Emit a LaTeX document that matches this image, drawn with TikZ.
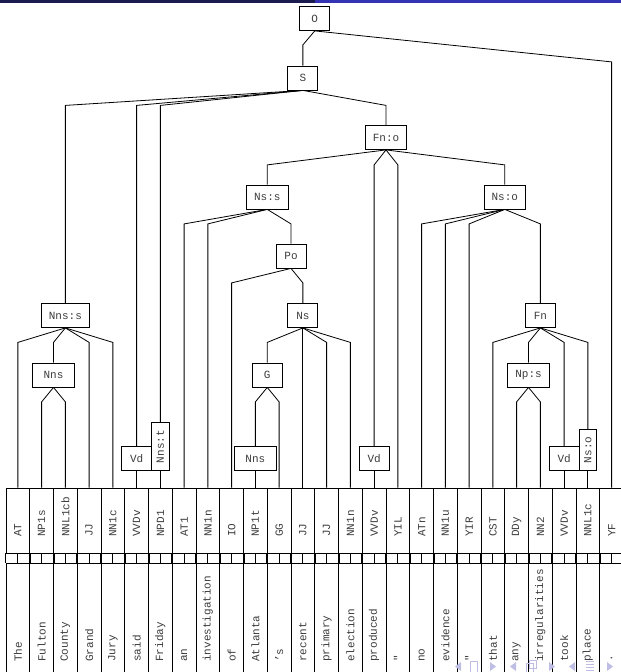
\documentclass[tikz,border=0pt]{standalone}
\usepackage{fontspec}
\setmonofont{Liberation Mono}
\usepackage{graphicx}
\definecolor{barnavy}{RGB}{27,27,80}
\definecolor{barblue}{RGB}{51,51,179}
\definecolor{navgrey}{RGB}{190,190,228}
\definecolor{inkgrey}{RGB}{60,60,60}
\newcommand{\colz}{17.875}
\newcommand{\colw}{23.75}
\tikzset{
	phrase/.style={draw, text=inkgrey, font=\ttfamily\fontsize{11}{13}\selectfont, minimum height=24, minimum width=30, inner xsep=7.5, inner ysep=0},
	phraseup/.style={draw, text=inkgrey, font=\ttfamily\fontsize{11}{13}\selectfont, inner xsep=5, inner ysep=7.5, anchor=south},
	cell/.style={draw, minimum width=\colw, inner sep=0},
	tagcell/.style={cell, minimum height=65},
	wordcell/.style={cell, minimum height=140},
	celltext/.style={text=inkgrey, font=\ttfamily\fontsize{11}{13}\selectfont, inner sep=0, anchor=south},
	wire/.style={line width=0.8pt},
}

\begin{document}
\begin{tikzpicture}[x=1pt, y=-1pt, line width=0.8pt]
	\useasboundingbox (0,0) rectangle (621,672);
	% Phrase nodes:
	\node[phrase] (O) at ({\colz+\colw*12.5},18.5) {O};
	\node[phrase] (S) at ({\colz+\colw*12},78) {S};
	\node[phrase] (fno) at ({\colz+\colw*15.5},137.5) {Fn:o};
	\node[phrase] (nss) at ({\colz+\colw*10.5},197) {Ns:s};
	\node[phrase] (nso) at ({\colz+\colw*20.5},197) {Ns:o};
	\node[phrase] (po) at ({\colz+\colw*11.5},256) {Po};
	\node[phrase] (nnss) at ({\colz+\colw*2},315.5) {Nns:s};
	\node[phrase] (ns) at ({\colz+\colw*12},315.5) {Ns};
	\node[phrase] (fn) at ({\colz+\colw*22},315.5) {Fn};
	\node[phrase, minimum width=42] (nnsa) at ({\colz+\colw*1.5},375) {Nns};
	\node[phrase] (g) at ({\colz+\colw*10.5},375) {G};
	\node[phrase] (nps) at ({\colz+\colw*21.5},375) {Np:s};
	\node[phrase, anchor=south] (vda) at ({\colz+\colw*5},471) {Vd};
	\node[phraseup] (nnst) at ({\colz+\colw*6},471) {\rotatebox{90}{Nns:t}};
	\node[phrase, anchor=south, minimum width=42] (nnsb) at ({\colz+\colw*10},471) {Nns};
	\node[phrase, anchor=south] (vdb) at ({\colz+\colw*15},471) {Vd};
	\node[phrase, anchor=south] (vdc) at ({\colz+\colw*23},471) {Vd};
	\node[phraseup] (nsob) at ({\colz+\colw*24},471) {\rotatebox{90}{Ns:o}};
	% Tags and words:
	\foreach \tagname/\wrd [count=\i from 0] in {AT/The, NP1s/Fulton, NNL1cb/County, JJ/Grand, NN1c/Jury, VVDv/said, NPD1/Friday, AT1/an, NN1n/investigation, IO/of, NP1t/Atlanta, GG/’s, JJ/recent, JJ/primary, NN1n/election, VVDv/produced, YIL/", ATn/no, NN1u/evidence, YIR/", CST/that, DDy/any, NN2/irregularities, VVDv/took, NNL1c/place, YF/.} {
		\node[tagcell] (t\i) at ({\colz+\colw*\i},520.5) {};
		\node[celltext] (tl\i) at ({\colz+\colw*\i},537) {\rotatebox{90}{\tagname}};
		\node[wordcell] (w\i) at ({\colz+\colw*\i},633) {};
		\node[celltext] (wl\i) at ({\colz+\colw*\i},662) {\rotatebox{90}{\wrd}};
		\draw[wire] (t\i) -- (w\i);
		\draw[wire] (t\i.south west) -- (w\i.north west);
		\draw[wire] (t\i.south east) -- (w\i.north east);
	}
	% Connectors:
	\foreach \a/\b/\h in {O/S/14, O/t25/31, S/nnss/15, S/vda/15, S/nnst/15, S/fno/15,
		nnss/t0/14.5, nnss/nnsa/14.5, nnss/t3/14.5, nnss/t4/14.5, nnsa/t1/14.5, nnsa/t2/14.5,
		vda/t5/8, nnst/t6/8, fno/nss/15, fno/vdb/15, fno/t16/15, fno/nso/15,
		nss/t7/14.5, nss/t8/14.5, nss/po/14.5, po/t9/14.5, po/ns/14.5,
		ns/g/14.5, ns/t12/14.5, ns/t13/14.5, ns/t14/14.5, g/nnsb/14.5, g/t11/14.5,
		nnsb/t10/8, vdb/t15/8, nso/t17/14.5, nso/t18/14.5, nso/t19/14.5, nso/fn/14.5,
		fn/t20/14.5, fn/nps/14.5, fn/vdc/14.5, fn/nsob/14.5, nps/t21/14.5, nps/t22/14.5,
		vdc/t23/8, nsob/t24/8} {
		\path (\a.south) ++(0,\h) coordinate (k);
		\draw[wire] (\a.south) -- (k -| \b.north) -- (\b.north);
	}
	% Slide bar and navigation:
	\fill[barnavy] (0,0) rectangle (315,2.5);
	\fill[barblue] (315,0) rectangle (621,2.5);
	\begin{scope}[navgrey, line width=0.7pt]
		\foreach \x in {458,513,572} \fill (\x+3,662) -- (\x-3,666.5) -- (\x+3,671) -- cycle;
		\foreach \x in {493,552,610} \fill (\x-3,662) -- (\x+3,666.5) -- (\x-3,671) -- cycle;
		\draw (470,661) rectangle (477,672);
		\draw (526,663) rectangle (533,672) (529,660) rectangle (536,668);
		\draw (586,661) -- (594,661) (586,664) -- (594,664) (586,667) -- (594,667) (586,670) -- (594,670);
	\end{scope}
\end{tikzpicture}
\end{document}
